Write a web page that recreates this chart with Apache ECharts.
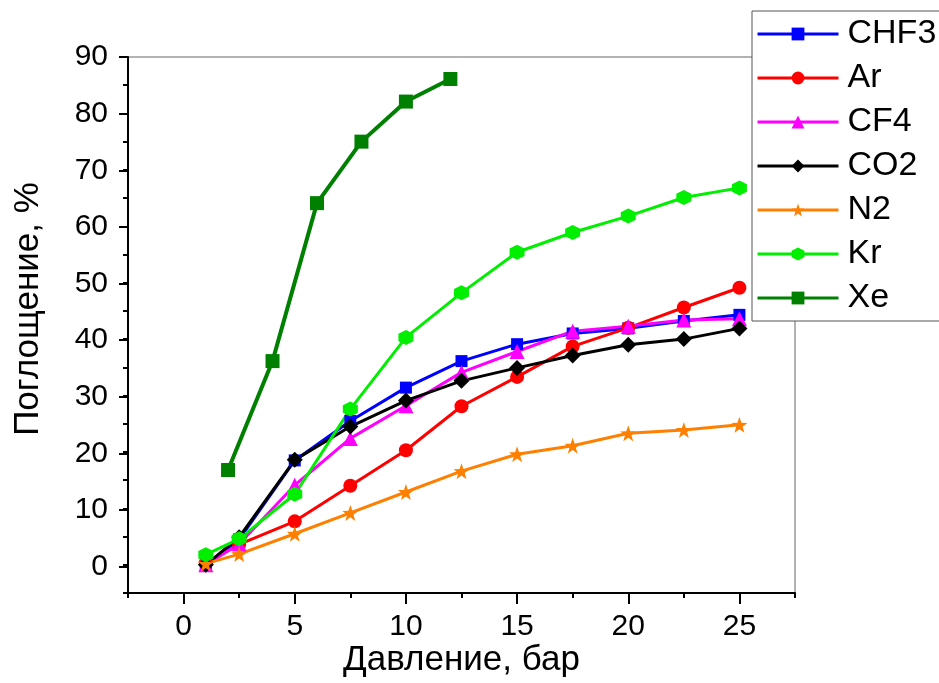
<!DOCTYPE html>
<html>
<head>
<meta charset="utf-8">
<script src="https://cdn.jsdelivr.net/npm/echarts@6/dist/echarts.min.js"></script>
<style>html,body{margin:0;padding:0;background:#fff;}#c{width:939px;height:683px;}</style>
</head>
<body>
<div id="c"></div>
<script>
// ---- data ----
const pressure = [1, 2.5, 5, 7.5, 10, 12.5, 15, 17.5, 20, 22.5, 25];
const xePressure = [2, 4, 6, 8, 10, 12];
const chf3 = [0, 4.5, 18.5, 25.5, 31.4, 36.1, 39.1, 41.0, 41.9, 43.2, 44.3];
const ar   = [0.3, 3.6, 7.7, 14.0, 20.3, 28.1, 33.3, 38.7, 42.0, 45.6, 49.1];
const cf4  = [0, 3.7, 14.1, 22.4, 28.2, 34.1, 37.8, 41.4, 42.3, 43.4, 43.6];
const co2  = [0, 4.9, 18.6, 24.5, 29.1, 32.6, 34.9, 37.1, 39.0, 40.0, 41.9];
const n2   = [0.2, 1.9, 5.5, 9.2, 12.9, 16.6, 19.6, 21.1, 23.3, 23.9, 24.8];
const kr   = [1.8, 4.6, 12.5, 27.6, 40.3, 48.2, 55.4, 58.9, 61.8, 65.1, 66.8];
const xe   = [16.8, 36.1, 64.1, 75.0, 82.1, 86.1];
const seriesNames = ['CHF3', 'Ar', 'CF4', 'CO2', 'N2', 'Kr', 'Xe'];
// axis ranges / tick steps
const xMin = -2.5, xMax = 27.5, xMinorStep = 2.5, xMajorMin = 0, xMajorMax = 25, xMajorStep = 5;
const yMin = -5, yMax = 90, yMinorStep = 5, yMajorMin = 0, yMajorMax = 90, yMajorStep = 10;

// ---- layout ----
const W = 939, H = 683;
const G = { left: 128, top: 57, right: 144, bottom: 88 };
const gw = W - G.left - G.right, gh = H - G.top - G.bottom;
const px = v => G.left + (v - xMin) / (xMax - xMin) * gw;
const py = v => G.top + (yMax - v) / (yMax - yMin) * gh;

// ---- style ----
const FONT = "'Liberation Sans', Arial, sans-serif";
const starPath = 'path://M0,-1 L0.235,-0.324 L0.951,-0.309 L0.380,0.124 L0.588,0.809 L0,0.4 L-0.588,0.809 L-0.380,0.124 L-0.951,-0.309 L-0.235,-0.324 Z';
const hexPath = 'path://M0,-1 L0.866,-0.5 L0.866,0.5 L0,1 L-0.866,0.5 L-0.866,-0.5 Z';
const tickStyle = { color: '#000', width: 2 };

function pairs(xs, ys) { return xs.map((x, i) => [x, ys[i]]); }
function mk(name, xs, ys, color, symbol, size, width) {
  return {
    name: name, type: 'line', data: pairs(xs, ys),
    xAxisIndex: 0, yAxisIndex: 0,
    symbol: symbol, symbolSize: size,
    lineStyle: { color: color, width: width },
    itemStyle: { color: color },
    emphasis: { disabled: true },
    animation: false
  };
}
const hiddenAxis = (gi, mn, mx) => ({ type: 'value', gridIndex: gi, min: mn, max: mx, show: false });

const chart = echarts.init(document.getElementById('c'), null, { renderer: 'canvas' });
chart.setOption({
  backgroundColor: '#fff',
  animation: false,
  textStyle: { fontFamily: FONT },
  grid: [
    // 0: main plot area (data, minor ticks, axis lines, frame)
    { left: G.left, top: G.top, right: G.right, bottom: G.bottom, show: true, borderColor: '#666', borderWidth: 1 },
    // 1: x major ticks/labels (spans x = 0..25)
    { left: px(xMajorMin), right: W - px(xMajorMax), top: G.top, bottom: G.bottom },
    // 2: y major ticks/labels (spans y = 0..90)
    { left: G.left, right: G.right, top: py(yMajorMax), bottom: H - py(yMajorMin) }
  ],
  legend: {
    orient: 'vertical', left: 752, top: 11,
    padding: [6, 60, 6, 4],
    borderColor: '#555', borderWidth: 1, backgroundColor: '#fff',
    itemWidth: 81, itemHeight: 16, itemGap: 10.0,
    lineStyle: { width: 3 },
    textStyle: { fontFamily: FONT, fontSize: 34, color: '#000', lineHeight: 32.7, padding: [0, 0, 0, 4] },
    data: seriesNames
  },
  xAxis: [
    {
      type: 'value', gridIndex: 0, min: xMin, max: xMax, interval: xMinorStep, position: 'bottom',
      name: 'Давление, бар', nameLocation: 'middle', nameGap: 50,
      nameTextStyle: { fontFamily: FONT, fontSize: 35, color: '#000' },
      axisLine: { show: true, onZero: false, lineStyle: { color: '#000', width: 2 } },
      axisTick: { show: true, length: 5, lineStyle: tickStyle },
      axisLabel: { show: false },
      splitLine: { show: false }
    },
    {
      type: 'value', gridIndex: 1, min: xMajorMin, max: xMajorMax, interval: xMajorStep, position: 'bottom',
      axisLine: { show: false, onZero: false },
      axisTick: { show: true, length: 9, lineStyle: tickStyle },
      axisLabel: { show: true, fontFamily: FONT, fontSize: 30, color: '#000', margin: 17 },
      splitLine: { show: false }
    },
    hiddenAxis(2, xMin, xMax)
  ],
  yAxis: [
    {
      type: 'value', gridIndex: 0, min: yMin, max: yMax, interval: yMinorStep, position: 'left',
      axisLine: { show: true, onZero: false, lineStyle: { color: '#000', width: 2 } },
      axisTick: { show: true, length: 5, lineStyle: tickStyle },
      axisLabel: { show: false },
      splitLine: { show: false }
    },
    hiddenAxis(1, yMin, yMax),
    {
      type: 'value', gridIndex: 2, min: yMajorMin, max: yMajorMax, interval: yMajorStep, position: 'left',
      axisLine: { show: false, onZero: false },
      axisTick: { show: true, length: 9, lineStyle: tickStyle },
      axisLabel: { show: true, fontFamily: FONT, fontSize: 30, color: '#000', margin: 20 },
      splitLine: { show: false }
    }
  ],
  graphic: [{
    type: 'text', x: 28, y: 309, rotation: Math.PI / 2,
    style: { text: 'Поглощение, %', font: '35px ' + FONT, fill: '#000', align: 'center', verticalAlign: 'middle' }
  }],
  series: [
    mk('CHF3', pressure, chf3, '#0000ff', 'rect', 12, 3),
    mk('Ar', pressure, ar, '#ff0000', 'circle', 14, 3),
    mk('CF4', pressure, cf4, '#ff00ff', 'triangle', 15, 3),
    mk('CO2', pressure, co2, '#000000', 'diamond', 16, 3),
    mk('N2', pressure, n2, '#ff8000', starPath, 16, 3),
    mk('Kr', pressure, kr, '#00ee00', hexPath, 15, 3),
    mk('Xe', xePressure, xe, '#008000', 'rect', 14, 4)
  ]
});
</script>
</body>
</html>
